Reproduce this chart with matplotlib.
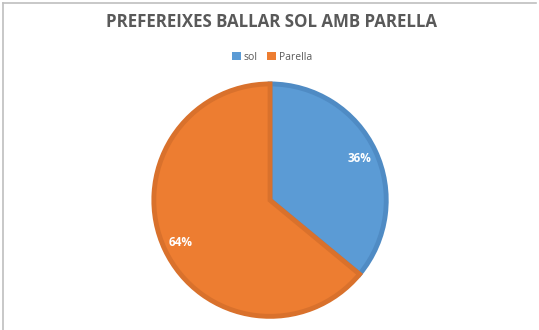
import matplotlib.pyplot as plt
from matplotlib.lines import Line2D
from matplotlib.patches import Patch

labels = ['sol', 'Parella']
values = [36, 64]
colors = ['#5B9BD5', '#ED7D31']
edge_colors = ['#4F8BC4', '#D9712C']

fig = plt.figure(figsize=(5.39, 3.30), dpi=100)
fig.patch.set_facecolor('white')

# light chart frame like the spreadsheet
fig.add_artist(Line2D([3 / 539, 536 / 539], [1 - 3 / 330, 1 - 3 / 330],
                      color='#BFBFBF', lw=1.2))
fig.add_artist(Line2D([3 / 539, 3 / 539], [1 - 3 / 330, 0],
                      color='#BFBFBF', lw=1.2))

ax = fig.add_axes([0.282, 0.036, 0.438, 0.715])
wedges, texts, autotexts = ax.pie(
    values, colors=colors, startangle=90, counterclock=False,
    radius=0.985, autopct='%1.0f%%', pctdistance=0.85,
    wedgeprops=dict(linewidth=3.5, joinstyle='miter'),
    textprops=dict(color='white', fontsize=8.5, fontweight='bold',
                   family='Open Sans'))
for w, ec in zip(wedges, edge_colors):
    w.set_edgecolor(ec)
ax.set_xlim(-1, 1)
ax.set_ylim(-1, 1)
ax.set_aspect('equal')

fig.text(0.503, 1 - 22 / 330, 'PREFEREIXES BALLAR SOL AMB PARELLA',
         ha='center', va='center', fontsize=12.2, fontweight='bold',
         color='#595959', family='Open Sans')

handles = [Patch(facecolor=c, edgecolor='none') for c in colors]
fig.legend(handles, labels, loc='center', bbox_to_anchor=(0.505, 1 - 57 / 330),
           ncol=2, frameon=False,
           prop=dict(family='Open Sans', size=7.5),
           handlelength=0.8, handleheight=0.8, handletextpad=0.3,
           columnspacing=0.9, labelcolor='#595959')

fig.savefig('out.png', dpi=100)
